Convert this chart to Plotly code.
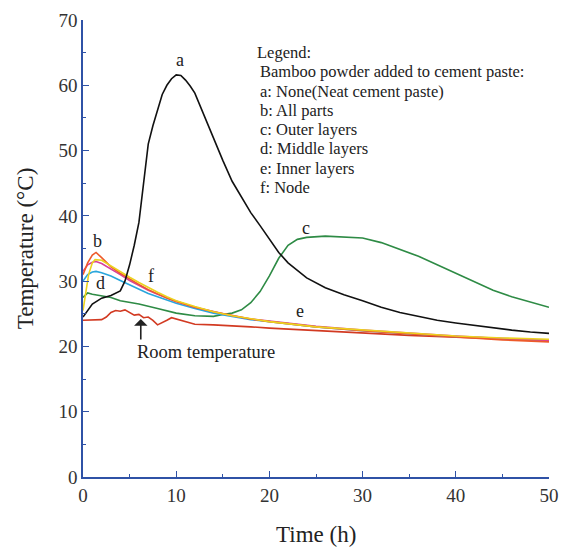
import plotly.graph_objects as go

# ---- data ----
t_a = [0, 0.5, 1, 2, 3, 4, 4.5, 5, 5.5, 6, 6.5, 7, 7.5, 8, 8.5, 9, 9.5, 10, 10.5, 11, 11.5, 12, 13, 14, 15, 16, 17, 18, 19, 20, 21, 22, 24, 26, 28, 30, 32, 34, 36, 38, 40, 42, 44, 46, 48, 50]
T_a = [24.5, 25.5, 26.5, 27.4, 27.8, 28.5, 30, 32.5, 35.5, 39, 45, 51, 53.8, 56.3, 58.6, 60, 61, 61.6, 61.5, 60.8, 59.9, 58.8, 55.3, 51.8, 48.5, 45.3, 42.8, 40.5, 38.5, 36.5, 34.4, 32.8, 30.5, 29, 27.9, 27, 26, 25.2, 24.6, 24, 23.6, 23.2, 22.8, 22.5, 22.2, 22.0]

t_c = [0, 0.5, 1, 2, 3, 4, 6, 8, 10, 12, 14, 15, 16, 17, 18, 19, 20, 21, 22, 23, 24, 26, 28, 30, 32, 34, 36, 38, 40, 42, 44, 46, 48, 50]
T_c = [27.5, 28.2, 28.0, 27.7, 27.5, 27.0, 26.5, 25.8, 25.1, 24.7, 24.6, 24.9, 25.1, 25.6, 26.7, 28.4, 30.8, 33.5, 35.5, 36.4, 36.7, 36.9, 36.8, 36.6, 35.9, 34.9, 33.8, 32.5, 31.2, 29.8, 28.6, 27.6, 26.8, 26.0]

t_bund = [0, 0.5, 1, 1.4, 2, 3, 4, 5, 6, 7, 8, 9, 10, 12, 14, 16, 18, 20, 25, 30, 35, 40, 45, 50]
T_b = [31.0, 32.8, 34.0, 34.4, 33.6, 32.2, 31.2, 30.3, 29.5, 28.7, 28.0, 27.4, 26.9, 26.0, 25.3, 24.7, 24.2, 23.8, 23.0, 22.4, 21.9, 21.4, 21.0, 20.7]
T_d = [30.0, 31.0, 31.4, 31.5, 31.3, 30.8, 30.1, 29.4, 28.7, 28.1, 27.6, 27.1, 26.6, 25.8, 25.1, 24.6, 24.1, 23.8, 23.0, 22.4, 21.9, 21.5, 21.2, 20.9]
T_f = [31.5, 32.5, 32.9, 33.0, 32.7, 31.9, 31.0, 30.1, 29.3, 28.6, 28.0, 27.4, 26.9, 26.0, 25.3, 24.7, 24.2, 23.9, 23.1, 22.5, 22.0, 21.6, 21.2, 20.9]

t_e = [0, 0.3, 0.6, 1, 1.3, 2, 3, 4, 5, 6, 7, 8, 9, 10, 12, 14, 16, 18, 20, 25, 30, 35, 40, 45, 50]
T_e = [25.5, 28.0, 31.0, 32.8, 33.3, 33.2, 32.3, 31.4, 30.6, 29.8, 29.0, 28.3, 27.6, 27.0, 26.1, 25.3, 24.7, 24.2, 23.8, 23.0, 22.5, 22.0, 21.6, 21.3, 21.1]

t_room = [0, 1, 2, 2.5, 3, 3.5, 4, 4.5, 5, 5.5, 6, 6.5, 7, 7.5, 8, 8.5, 9, 9.5, 10, 10.5, 11, 12, 14, 16, 18, 20, 25, 30, 35, 40, 45, 50]
T_room = [24.0, 24.0, 24.1, 24.5, 25.2, 25.5, 25.4, 25.6, 25.2, 24.8, 24.9, 24.4, 24.5, 24.0, 23.3, 23.6, 24.0, 24.4, 24.2, 24.0, 23.8, 23.4, 23.3, 23.2, 23.0, 22.8, 22.4, 22.0, 21.7, 21.4, 21.1, 20.9]

legend_lines = ["Legend:",
                "Bamboo powder added to cement paste:",
                "a: None(Neat cement paste)",
                "b: All parts",
                "c: Outer layers",
                "d: Middle layers",
                "e: Inner layers",
                "f: Node"]

curve_labels = [("a", 10.4, 63.9), ("b", 1.6, 36.1), ("c", 23.9, 38.1),
                ("d", 1.9, 29.7), ("e", 23.3, 25.4), ("f", 7.3, 30.8)]

FONT = "Liberation Serif, Times New Roman, serif"

fig = go.Figure()
series = [
    (t_room, T_room, "#d23a22"),
    (t_c, T_c, "#2e8b45"),
    (t_bund, T_d, "#2aa6dc"),
    (t_bund, T_f, "#d6409c"),
    (t_bund, T_b, "#ee5a2a"),
    (t_e, T_e, "#ecd21e"),
    (t_a, T_a, "#111111"),
]
for xs, ys, col in series:
    fig.add_trace(go.Scatter(x=xs, y=ys, mode="lines",
                             line=dict(color=col, width=1.6), showlegend=False))

ann = []
for i, txt in enumerate(legend_lines):
    ann.append(dict(x=18.5 if i == 0 else 18.8, y=65.0 - i * 2.95, text=txt,
                    xref="x", yref="y", xanchor="left", yanchor="middle",
                    showarrow=False, font=dict(family=FONT, size=16.5, color="#222")))
for lab, x, y in curve_labels:
    ann.append(dict(x=x, y=y, text=lab, xref="x", yref="y", showarrow=False,
                    font=dict(family=FONT, size=18, color="#222")))
ann.append(dict(x=13.2, y=19.1, text="Room temperature", xref="x", yref="y",
                showarrow=False, font=dict(family=FONT, size=18.5, color="#222")))
ann.append(dict(x=6.2, y=24.2, ax=0, ay=22, text="", xref="x", yref="y",
                showarrow=True, arrowhead=1, arrowsize=1.4, arrowwidth=1.6,
                arrowcolor="#222"))
# axis titles as annotations for exact placement
ann.append(dict(x=0.5, y=-0.125, xref="paper", yref="paper", text="Time (h)",
                showarrow=False, yanchor="middle",
                font=dict(family=FONT, size=23, color="#222")))
ann.append(dict(x=-0.123, y=0.5, xref="paper", yref="paper", text="Temperature (°C)",
                showarrow=False, textangle=-90, xanchor="center",
                font=dict(family=FONT, size=23, color="#222")))

axis_common = dict(showline=True, linecolor="#2f52a6", linewidth=1.5,
                   ticks="inside", ticklen=6, tickwidth=1.3, tickcolor="#2f52a6",
                   showgrid=False, zeroline=False, mirror=False, automargin=False,
                   tickfont=dict(family=FONT, size=19, color="#333"),
                   minor=dict(ticks="inside", ticklen=3, tickwidth=1.1, tickcolor="#2f52a6"))

fig.update_layout(
    width=561, height=547,
    margin=dict(l=83, r=12, t=20, b=70),
    paper_bgcolor="white", plot_bgcolor="white",
    annotations=ann,
    xaxis=dict(range=[0, 50], dtick=10, tick0=0, **axis_common),
    yaxis=dict(range=[0, 70], dtick=10, tick0=0, **axis_common),
)
fig.update_xaxes(minor_dtick=5)
fig.update_yaxes(minor_dtick=5)

fig.write_html("out.html")
